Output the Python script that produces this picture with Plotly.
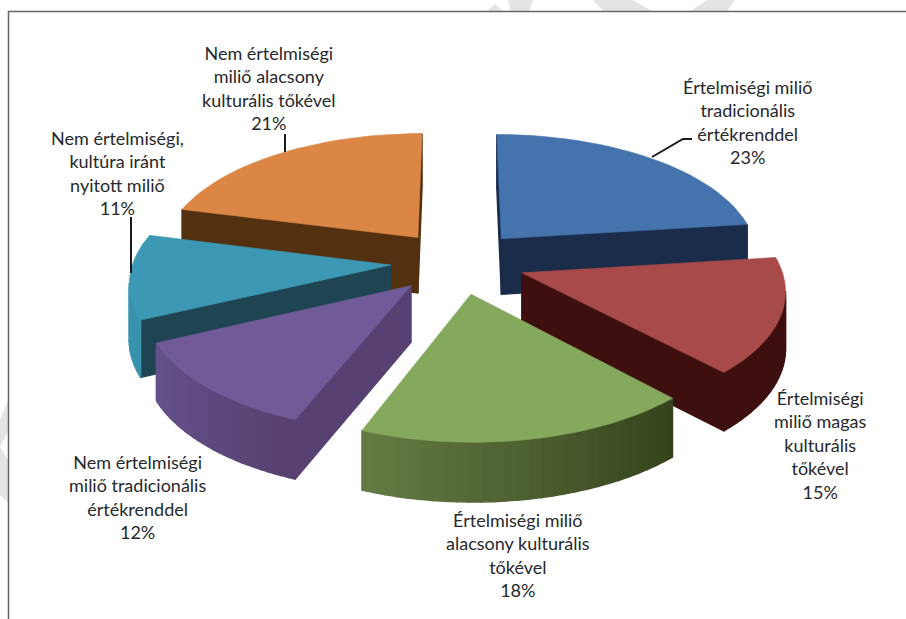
import numpy as np
import plotly.graph_objects as go

# ---- data, clockwise from 12 o'clock ----
categories = [
    "Értelmiségi miliő<br>tradicionális<br>értékrenddel",
    "Értelmiségi<br>miliő magas<br>kulturális<br>tőkével",
    "Értelmiségi miliő<br>alacsony kulturális<br>tőkével",
    "Nem értelmiségi<br>miliő tradicionális<br>értékrenddel",
    "Nem értelmiségi,<br>kultúra iránt<br>nyitott miliő",
    "Nem értelmiségi<br>miliő alacsony<br>kulturális tőkével",
]
values = [23, 15, 18, 12, 11, 21]

top_colors = ["#4473ae", "#a84a4a", "#84a85c", "#705b98", "#3c98b4", "#dc8645"]
radial_colors = ["#1b2c4a", "#3e0f0f", "#34431c", "#574172", "#1f4452", "#533010"]
arc_from = ["#1b2c4a", "#3e0f0f", "#34431c", "#574172", "#3a93ae", "#533010"]
arc_to = ["#1b2c4a", "#3e0f0f", "#667c44", "#66538c", "#3a93ae", "#533010"]

label_pos = [(747, 122), (820, 445), (518, 555), (137, 497), (117, 173), (269, 88)]

# projection of the tilted, exploded pie on the page
CX, CY, A, B, K, EXPLODE, H = 458, 262, 258, 122, 0.12, 0.26, 56
N_ARC = 28


def project(X, F):
    s = 1 / (1 + K * F)
    return CX + A * X * s, CY - B * F * s, s


def down(F):
    s = 1 / (1 + K * F)
    return H * s ** 0.4


def mix(c1, c2, t):
    a = [int(c1[i:i + 2], 16) for i in (1, 3, 5)]
    b = [int(c2[i:i + 2], 16) for i in (1, 3, 5)]
    return "rgb(%d,%d,%d)" % tuple(round(p + (q - p) * t) for p, q in zip(a, b))


def poly(xs, ys, color, text=None, lw=0.6):
    return go.Scatter(
        x=list(xs), y=list(ys), mode="lines", fill="toself", fillcolor=color,
        line=dict(color=color, width=lw), showlegend=False,
        hoverinfo="text" if text else "skip", text=text,
    )


def wedge(i, a0, a1):
    mid = (a0 + a1) / 2
    ex, ef = EXPLODE * np.sin(mid), EXPLODE * np.cos(mid)
    th = np.linspace(a0, a1, N_ARC + 1)
    WX = np.r_[ex, ex + np.sin(th)]
    WF = np.r_[ef, ef + np.cos(th)]
    px, py, _ = project(WX, WF)
    dp = down(WF)
    out = []
    n = len(px)
    for j in range(n):
        k = (j + 1) % n
        if px[k] - px[j] >= 0:      # wall faces away from the viewer
            continue
        radial = j == 0 or k == 0
        col = radial_colors[i] if radial else mix(arc_from[i], arc_to[i], (j - 1) / N_ARC)
        out.append(poly([px[j], px[k], px[k], px[j], px[j]],
                        [py[j], py[k], py[k] + dp[k], py[j] + dp[j], py[j]], col, lw=1.4))
    out.append(poly(np.r_[px, px[0]], np.r_[py, py[0]], top_colors[i],
                    text=categories[i].replace("<br>", " ") + f": {values[i]}%"))
    return ef, out


fractions = np.array(values) / sum(values)
edges = np.r_[0, np.cumsum(fractions)] * 2 * np.pi
wedges = [wedge(i, edges[i], edges[i + 1]) for i in range(len(values))]
wedges.sort(key=lambda w: -w[0])

fig = go.Figure()
for _, traces in wedges:
    for t in traces:
        fig.add_trace(t)

# leader lines
for lx, ly in [([285, 285], [134, 152]), ([131, 131], [217, 273]),
               ([652, 683, 692], [157, 139, 139])]:
    fig.add_trace(go.Scatter(x=lx, y=ly, mode="lines", showlegend=False, hoverinfo="skip",
                             line=dict(color="#1a1a1a", width=2)))

annotations = [
    dict(x=p[0], y=p[1], xref="x", yref="y", showarrow=False, align="center",
         text=f"{c}<br>{v}%", font=dict(family="Lato, Carlito, sans-serif", size=18, color="#25292c"))
    for c, v, p in zip(categories, values, label_pos)
]

# page watermark remnants outside the frame and the frame itself
gray = "#e4e4e4"
marks = [
    "M487,11 L495,4 L503,11 Z",
    "M508,0 L533,0 L529,11 L511,11 Z",
    "M593,0 L633,0 L652,11 L603,11 Z",
    "M707,0 L735,0 L727,11 L690,11 Z",
    "M0,420 L8,400 L8,432 L0,447 L8,460 L8,503 L0,495 Z",
]
shapes = [dict(type="path", path=p, fillcolor=gray, line=dict(width=0), layer="below",
               xref="x", yref="y") for p in marks]
shapes += [
    dict(type="line", x0=8, x1=906, y0=11.5, y1=11.5, line=dict(color="#666666", width=1.5), xref="x", yref="y"),
    dict(type="line", x0=8.5, x1=8.5, y0=11, y1=619, line=dict(color="#666666", width=1.5), xref="x", yref="y"),
]

fig.update_layout(
    width=906, height=619, margin=dict(l=0, r=0, t=0, b=0),
    paper_bgcolor="white", plot_bgcolor="white", showlegend=False,
    xaxis=dict(range=[0, 906], visible=False, fixedrange=True),
    yaxis=dict(range=[619, 0], visible=False, fixedrange=True),
    annotations=annotations, shapes=shapes,
)
fig.write_html("out.html", config=dict(displayModeBar=False),
               post_script="document.body.style.margin='0';document.body.style.overflow='hidden';")
